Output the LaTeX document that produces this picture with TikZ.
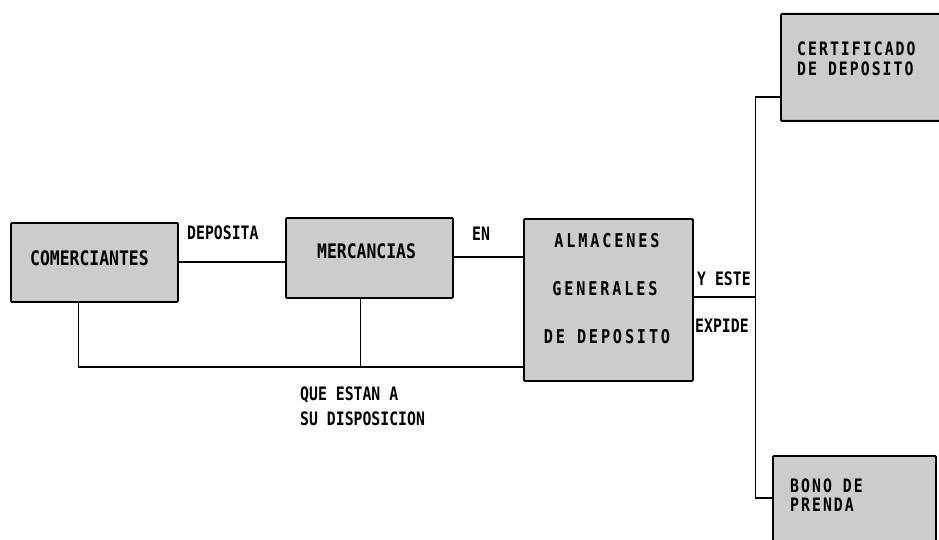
\documentclass[tikz,border=0pt]{standalone}
\usepackage{fontspec}
\newfontfamily\fN{DejaVu Sans Mono}[FakeStretch=0.8]
\newfontfamily\fB{DejaVu Sans Mono}[FakeStretch=0.82]
\newfontfamily\fS{DejaVu Sans Mono}[FakeStretch=0.8,LetterSpace=11]
\newfontfamily\fW{DejaVu Sans Mono}[FakeStretch=0.8,LetterSpace=15]
\tikzset{
  boxst/.style={draw=black, line width=1.8pt, fill=black!20, rounded corners=1pt,
    inner sep=0pt, anchor=north west},
  lbl/.style={inner sep=0pt, anchor=base west, font=\fN\bfseries\fontsize{18.5}{21}\selectfont},
  big/.style={inner sep=0pt, anchor=base west, font=\fB\bfseries\fontsize{20}{23}\selectfont},
  sp/.style={inner sep=0pt, anchor=base west, font=\fS\bfseries\fontsize{18.5}{21}\selectfont},
  wd/.style={inner sep=0pt, anchor=base, font=\fW\bfseries\fontsize{19}{22}\selectfont},
  thick conn/.style={line width=1.8pt},
  thin conn/.style={line width=1pt},
}
\begin{document}
\begin{tikzpicture}[x=1pt,y=-1pt]
\useasboundingbox (0,0) rectangle (939,540);
\clip (0,0) rectangle (939,540);
% boxes
\node[boxst, minimum width=167pt, minimum height=79pt] (com) at (10,222) {};
\node[boxst, minimum width=167pt, minimum height=80pt] (mer) at (285,217) {};
\node[boxst, minimum width=169pt, minimum height=162pt] (alm) at (523,218) {};
\node[boxst, minimum width=190pt, minimum height=107pt] (cert) at (780,13) {};
\node[boxst, minimum width=163pt, minimum height=110pt] (bono) at (772,455) {};
% box texts
\node[big] (comt) at (30,265) {COMERCIANTES};
\node[big] (mert) at (317,258) {MERCANCIAS};
\node[wd] (alma) at (607,247) {ALMACENES};
\node[wd] (almb) at (605,295) {GENERALES};
\node[wd] (almc) at (607,343) {DE DEPOSITO};
\node[sp] (certa) at (797,56) {CERTIFICADO};
\node[sp] (certb) at (797,76) {DE DEPOSITO};
\node[sp] (bonoa) at (790,492) {BONO DE};
\node[sp] (bonob) at (790,511) {PRENDA};
% connector labels
\node[lbl] (ldep) at (187,239) {DEPOSITA};
\node[lbl] (len) at (472,240) {EN};
\node[lbl] (lyeste) at (697,285) {Y ESTE};
\node[lbl] (lexp) at (695,332) {EXPIDE};
\node[lbl] (lque) at (300,400) {QUE ESTAN A};
\node[lbl] (lsu) at (300,425) {SU DISPOSICION};
% coordinates
\coordinate (b1) at (78,367);
\coordinate (mb) at (360,367);
\coordinate (vt) at (755,97);
\coordinate (vm) at (755,297);
\coordinate (vb) at (755,498);
% connectors
\draw[thick conn] (com.east |- 0,262) -- (mer.west |- 0,262);
\draw[thick conn] (mer.east |- 0,257) -- (alm.west |- 0,257);
\draw[thin conn] (b1 |- com.south) -- (b1);
\draw[thin conn] (mb |- mer.south) -- (mb);
\draw[thick conn] (b1) -- (b1 -| alm.west);
\draw[thick conn] (vm -| alm.east) -- (vm);
\draw[thin conn] (vt) -- (vb);
\draw[thick conn] (vt) -- (vt -| cert.west);
\draw[thick conn] (vb) -- (vb -| bono.west);
\end{tikzpicture}
\end{document}
